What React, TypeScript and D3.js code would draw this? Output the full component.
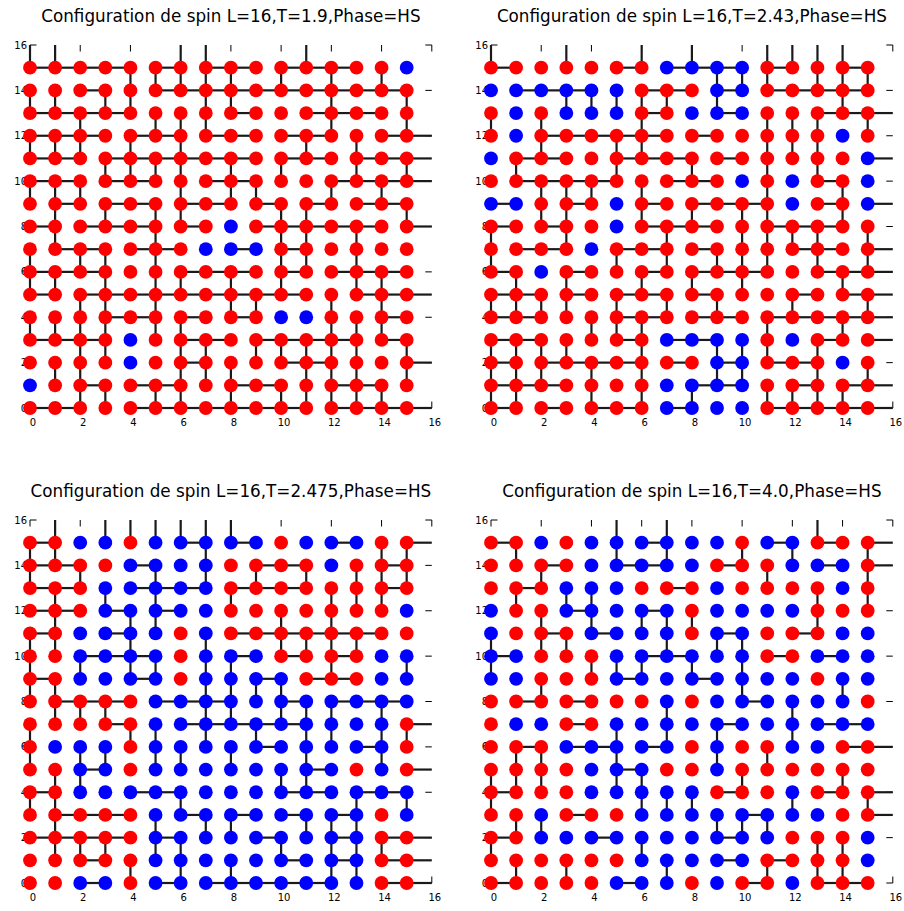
import React from "react";
import * as d3 from "d3";

// ---------- DATA ----------
const L = 16;
const tickValues = [0, 2, 4, 6, 8, 10, 12, 14, 16];
const titles = [
  "Configuration de spin L=16,T=1.9,Phase=HS",
  "Configuration de spin L=16,T=2.43,Phase=HS",
  "Configuration de spin L=16,T=2.475,Phase=HS",
  "Configuration de spin L=16,T=4.0,Phase=HS",
];

// spins: rows listed from y=15 (top) down to y=0; R = up (red), B = down (blue)
const spins1 = [
  "RRRRRRRRRRRRRRRB", "RRRRRRRRRRRRRRRR", "RRRRRRRRRRRRRRRR", "RRRRRRRRRRRRRRRR",
  "RRRRRRRRRRRRRRRR", "RRRRRRRRRRRRRRRR", "RRRRRRRRRRRRRRRR", "RRRRRRRRBRRRRRRR",
  "RRRRRRRBBBRRRRRR", "RRRRRRRRRRRRRRRR", "RRRRRRRRRRRRRRRR", "RRRRRRRRRRBBRRRR",
  "RRRRBRRRRRRRRRRR", "RRRRBRRRRRRRRRRR", "BRRRRRRRRRRRRRRR", "RRRRRRRRRRRRRRRR",
];
// horizontal bonds (x,y)-(x+1,y); rows y=15..0
const hBonds1 = [
  "1111010110111000", "0010011111111110", "1111000010011100", "1110110110110011",
  "1101111110110111", "1101100110001111", "0101101101010110", "1011101001111101",
  "0110110010100000", "1110001110101110", "1011111111100111", "0001101010000010",
  "1110001101111010", "0000001000110001", "0010110011001100", "1100111111101111",
];
// vertical bonds (x,y)-(x,y+1); rows y=15..0
const vBonds1 = [
  "1100001100010000", "0000111110101010", "1101100110001001", "0010011100001001",
  "1110101000010100", "0001111010100101", "1110001011001010", "0101011000110001",
  "0100010000110100", "1011010000110100", "1101011010100110", "0011010011001010",
  "1111011000001110", "0011001101111101", "0110001110011101", "0011011010111110",
];

const spins2 = [
  "RRRRRRRBBBBRRRRR", "BBBBBBRRRBBRRRRR", "RBRBBBRRBBBRRRRR", "RBRRRRRRRRRRRRBR",
  "BRRRRRRRRRRRRRRB", "RRRRRRRRRRBRBRRB", "BBRRRBRRRRRRBRRB", "RRRRRBRRRRRRRRRR",
  "RRRRBRRRRRRRRRRR", "RRBRRRRRRRRRRRRR", "RRRRRRRRRRRRRRRR", "RRRRRRRRRRRRRRRR",
  "RRRRRRRBBBBRBRRR", "RRRRRRRRRBBRRRBR", "RRRRRRRBBBBRRRRR", "RRRRRRRBBBBRRRRR",
];
const hBonds2 = [
  "1000010111010010", "0111001101011110", "0000001001000111", "0011111010000000",
  "0110011101000001", "0111100110000100", "1001001011100101", "1010001110011100",
  "0110011010001101", "1001001011100111", "1101011010001011", "1100011011011111",
  "1100010110000101", "1011110101011000", "1110000011001011", "1010110100011111",
];
const vBonds2 = [
  "1001001010011110", "0000000001110111", "0001111101000010", "1010001000011101",
  "0010011000011100", "0100010010010100", "0011101000010010", "0011001010110010",
  "1001000100111101", "1000010101110101", "0101001010100010", "1111010101001001",
  "0000111000010010", "1111001001110100", "1110101001100101", "1100101010011110",
];

const spins3 = [
  "RRBBRBBBBBRBBBRR", "RRRRBBBBRRRRBRRR", "RRRBBBBBRRRRRRRR", "RRRBBBBBRRRRRRRB",
  "RRBBBBRBRRRRRRRR", "RRBBBBRBBBRRRRBB", "RRBBBBRBBBBRRRBB", "RRRRRBBBBBBBBBBB",
  "RRRRRBBBBBBBBBBR", "RBBBRBBBBBBBBBBR", "RRBBRBBBBBBBBRBR", "RRBBBBBBBBBBBBBB",
  "RRRRRBBBBBBBBBRB", "RRRRRBBBBBBBBBRR", "RRRRRBBBBBBBBBRR", "RRBBRBBBBBBBBBRR",
];
const hBonds3 = [
  "1000001010001001", "1100100001100010", "1100111011100010", "1101010000000000",
  "1001000011111100", "0011100010101000", "1000100001011000", "0111011100101110",
  "0001001111100001", "0000000001000100", "0010000000010001", "1000110000110110",
  "0111001010101000", "1111010001001011", "0010000000101011", "0010010111110011",
];
const vBonds3 = [
  "0101111110000000", "1100000100000011", "1010010101010111", "0101010010001110",
  "0100110000101000", "1100100100111100", "1010110110001001", "1100000111100000",
  "0111000110111010", "1000110101011011", "1011011010010010", "0110000000110000",
  "1100001000000101", "0100010110011100", "0111011000101110", "0000101010001100",
];

const spins4 = [
  "RRBRBBBBBBRBBRRR", "RRRRBBBBBRRRBBBR", "RRRBBBRRRBRRRRBR", "BRRBBBBBRBBBBRRR",
  "BRRRBBBBRBBRRRBB", "BBRRRBBBBBBRRBBB", "BBRRRBBBBBBBBRBB", "RRRRRRRBRBBBBBBR",
  "RBBRRBBBBBBBBBBB", "RRRBBBBBRBRRBBRR", "RRRRBBBRRBRRRRRR", "RRRRBBBBBRRRBRRR",
  "RRBRRRBBBBBBBBRR", "RRBBBBBBBBBBRRRB", "RRRRRRBBBBBRRRRB", "RRRRRBBBRBRRBRRR",
];
const hBonds4 = [
  "1000001000010101", "0010011001000101", "0100000100000000", "0001001000000000",
  "0010100001001000", "1000001100010100", "0000010010000000", "0101000000100000",
  "0001000001000110", "0101101000000011", "0000010000000000", "1000000001000101",
  "0001000000100001", "1000100001000000", "0000000001010000", "1000010000100110",
];
const vBonds4 = [
  "0000010100000100", "0100010100101001", "0010000000010001", "0101100000000101",
  "0010101110000100", "1011000101100000", "1000111010100000", "0010000000100010",
  "0000000100001000", "0000010101001000", "0110010001010000", "1110011000100010",
  "1000001110001001", "0110000001110000", "1000001000000110", "0101000100010110",
];

const spinSets = [spins1, spins2, spins3, spins4];
const hBondSets = [hBonds1, hBonds2, hBonds3, hBonds4];
const vBondSets = [vBonds1, vBonds2, vBonds3, vBonds4];

// ---------- LAYOUT ----------
const W = 904;
const H = 911;
const PW = 401.8;
const PH = 363;
const origins = [
  { x: 30, y: 408 },
  { x: 491, y: 408 },
  { x: 30, y: 883 },
  { x: 491, y: 883 },
];
const COLORS: Record<string, string> = { R: "#ff0000", B: "#0000ff" };
const DOT_R = 6.9;
const TICK = 6.5;
const FONT = "'DejaVu Sans', Verdana, sans-serif";

function Panel({ idx }: { idx: number }) {
  const o = origins[idx];
  const x = d3.scaleLinear().domain([0, L]).range([o.x, o.x + PW]);
  const y = d3.scaleLinear().domain([0, L]).range([o.y, o.y - PH]);
  const spins = spinSets[idx];
  const hb = hBondSets[idx];
  const vb = vBondSets[idx];

  const bonds: { x1: number; y1: number; x2: number; y2: number; k: string }[] = [];
  const dots: { cx: number; cy: number; c: string; k: string }[] = [];
  for (let r = 0; r < L; r++) {
    const yy = L - 1 - r;
    for (let xx = 0; xx < L; xx++) {
      if (hb[r][xx] === "1")
        bonds.push({ x1: x(xx), y1: y(yy), x2: x(xx + 1), y2: y(yy), k: `h${r}-${xx}` });
      if (vb[r][xx] === "1")
        bonds.push({ x1: x(xx), y1: y(yy), x2: x(xx), y2: y(yy + 1), k: `v${r}-${xx}` });
      dots.push({ cx: x(xx), cy: y(yy), c: COLORS[spins[r][xx]], k: `d${r}-${xx}` });
    }
  }

  return (
    <g>
      <text
        x={(x(0) + x(L)) / 2}
        y={o.y - PH - 23}
        textAnchor="middle"
        fontFamily={FONT}
        fontSize={16.8}
        fill="#000"
      >
        {titles[idx]}
      </text>
      {/* ticks */}
      {tickValues.map((t) => (
        <g key={`t${t}`} stroke="#000" strokeWidth={1}>
          <line x1={x(t)} x2={x(t)} y1={y(0)} y2={y(0) - TICK} />
          <line x1={x(t)} x2={x(t)} y1={y(L)} y2={y(L) + TICK} />
          <line x1={x(0)} x2={x(0) + TICK} y1={y(t)} y2={y(t)} />
          <line x1={x(L)} x2={x(L) - TICK} y1={y(t)} y2={y(t)} />
        </g>
      ))}
      {tickValues.map((t) => (
        <text
          key={`xl${t}`}
          x={x(t) + 3}
          y={y(0) + 18}
          textAnchor="middle"
          fontFamily={FONT}
          fontSize={10}
          fill="#000"
        >
          {t}
        </text>
      ))}
      {tickValues.map((t) => (
        <text
          key={`yl${t}`}
          x={x(0) - 3}
          y={y(t) + 3.5}
          textAnchor="end"
          fontFamily={FONT}
          fontSize={10}
          fill="#000"
        >
          {t}
        </text>
      ))}
      {/* bonds */}
      <g stroke="#1a1a1a" strokeWidth={2.2}>
        {bonds.map((b) => (
          <line key={b.k} x1={b.x1} y1={b.y1} x2={b.x2} y2={b.y2} />
        ))}
      </g>
      {/* spins */}
      <g>
        {dots.map((d) => (
          <circle key={d.k} cx={d.cx} cy={d.cy} r={DOT_R} fill={d.c} />
        ))}
      </g>
    </g>
  );
}

export default function App() {
  return (
    <div style={{ position: "absolute", left: 0, top: 0, width: W, height: H, background: "#fff" }}>
      <svg width={W} height={H} viewBox={`0 0 ${W} ${H}`} style={{ display: "block" }}>
        <rect x={0} y={0} width={W} height={H} fill="#fff" />
        {[0, 1, 2, 3].map((i) => (
          <Panel key={i} idx={i} />
        ))}
      </svg>
    </div>
  );
}
